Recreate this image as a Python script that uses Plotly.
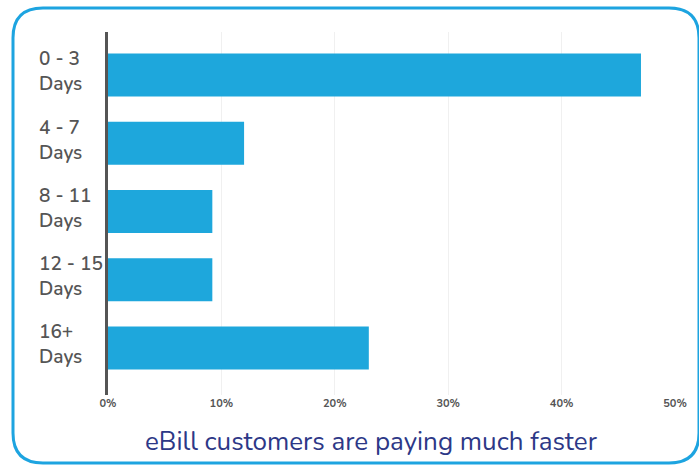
import plotly.graph_objects as go

categories = ["0 - 3<br>Days", "4 - 7<br>Days", "8 - 11<br>Days", "12 - 15<br>Days", "16+<br>Days"]
values = [47, 12, 9.2, 9.2, 23]
x_ticks = [0, 10, 20, 30, 40, 50]
x_tick_labels = ["0%", "10%", "20%", "30%", "40%", "50%"]
title_text = "eBill customers are paying much faster"

W, H = 699, 465
ML, MR, MT, MB = 108, 24, 32, 70
PW, PH = W - ML - MR, H - MT - MB
FONT = "Nunito, 'Noto Sans', Lato, sans-serif"

def px(x):
    return (x - ML) / PW

def py(y):
    return (H - MB - y) / PH

fig = go.Figure()
fig.add_trace(go.Bar(
    x=values, y=list(range(len(categories))), orientation="h",
    marker=dict(color="#1ea7dc", line=dict(width=0)),
    hoverinfo="skip",
))

# category labels (left aligned, two lines)
for i, c in enumerate(categories):
    fig.add_annotation(
        x=0, xref="paper", xshift=-71, xanchor="left",
        y=i, yref="y", yshift=3, yanchor="middle",
        text=c, align="left", showarrow=False,
        font=dict(family=FONT, size=19, color="#555555", weight=600),
    )

# title
fig.add_annotation(
    x=px(371), y=py(441), xref="paper", yref="paper",
    text=title_text, showarrow=False, xanchor="center", yanchor="middle",
    font=dict(family=FONT, size=26, color="#2d3887"),
)

# rounded border
x0, x1, y0, y1, r = 13, 699, 8, 463, 30
path = (
    f"M {px(x0 + r)},{py(y0)} L {px(x1 - r)},{py(y0)} "
    f"Q {px(x1)},{py(y0)} {px(x1)},{py(y0 + r)} "
    f"L {px(x1)},{py(y1 - r)} Q {px(x1)},{py(y1)} {px(x1 - r)},{py(y1)} "
    f"L {px(x0 + r)},{py(y1)} Q {px(x0)},{py(y1)} {px(x0)},{py(y1 - r)} "
    f"L {px(x0)},{py(y0 + r)} Q {px(x0)},{py(y0)} {px(x0 + r)},{py(y0)} Z"
)
fig.add_shape(type="path", path=path, xref="paper", yref="paper",
              line=dict(color="#1da4e0", width=3), fillcolor="rgba(0,0,0,0)")

fig.update_layout(
    width=W, height=H,
    margin=dict(l=ML, r=MR, t=MT, b=MB),
    paper_bgcolor="white", plot_bgcolor="white",
    bargap=0.37, showlegend=False,
    xaxis=dict(
        range=[0, 50], tickvals=x_ticks, ticktext=x_tick_labels,
        showgrid=True, gridcolor="#f0f0f0", gridwidth=1, zeroline=False,
        showline=False, ticks="",
        tickfont=dict(family=FONT, size=11, color="#555555", weight="bold"),
        fixedrange=True,
    ),
    yaxis=dict(
        range=[4.69, -0.63], showticklabels=False, ticks="",
        showgrid=False, zeroline=False,
        showline=True, linecolor="#555555", linewidth=3,
        fixedrange=True,
    ),
)

fig.write_html("out.html")
